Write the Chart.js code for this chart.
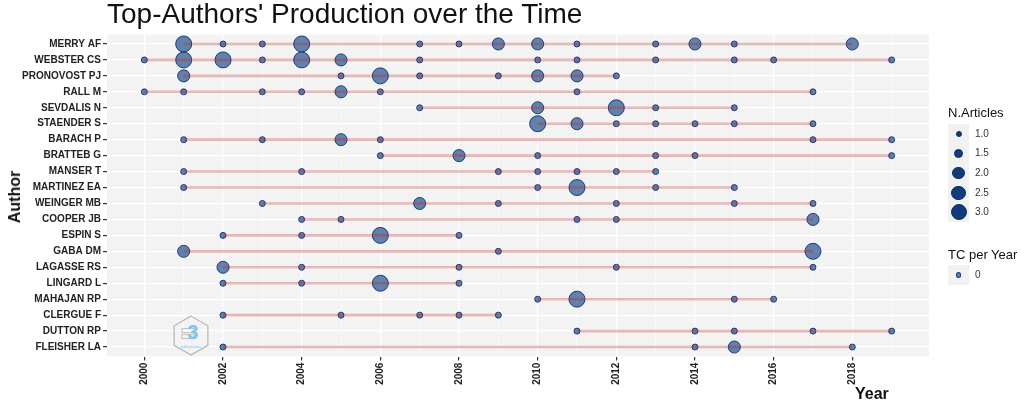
<!DOCTYPE html>
<html>
<head>
<meta charset="utf-8">
<script src="https://cdn.jsdelivr.net/npm/chart.js@4.4.0/dist/chart.umd.min.js"></script>
<style>
  body { margin: 0; background: #fff; font-family: "Liberation Sans", Arial, sans-serif; }
  #wrap { position: relative; width: 1021px; height: 404px; overflow: hidden; }
  #myChart { position: absolute; left: 0; top: 0; }
  .txt { position: absolute; white-space: nowrap; color: #111; }
  #title { left: 107px; top: -2px; font-size: 28px; line-height: 32px; }
  #ytitle { left: 15px; top: 197px; font-size: 16px; font-weight: bold; line-height: 18px;
            transform: translate(-50%, -50%) rotate(-90deg); }
  #xtitle { left: 855px; top: 385px; font-size: 16px; font-weight: bold; line-height: 18px; }
  .ltitle { font-size: 13px; line-height: 14px; left: 948px; }
  .key { position: absolute; left: 948px; width: 21px; background: #f1f1f1; }
  .dot { position: absolute; border-radius: 50%; box-sizing: border-box; }
  .llab { position: absolute; left: 975px; font-size: 10px; line-height: 12px; color: #333; }
</style>
</head>
<body>
<div id="wrap">
  <canvas id="myChart" width="1021" height="404"></canvas>
  <div class="txt" id="title">Top-Authors' Production over the Time</div>
  <div class="txt" id="ytitle">Author</div>
  <div class="txt" id="xtitle">Year</div>
  <div class="txt ltitle" style="top:106px">N.Articles</div>
  <div class="txt ltitle" style="top:248px">TC per Year</div>
  <div id="legend"></div>
</div>
<script>
const authors = ["MERRY AF", "WEBSTER CS", "PRONOVOST PJ", "RALL M", "SEVDALIS N", "STAENDER S",
  "BARACH P", "BRATTEB G", "MANSER T", "MARTINEZ EA", "WEINGER MB", "COOPER JB", "ESPIN S",
  "GABA DM", "LAGASSE RS", "LINGARD L", "MAHAJAN RP", "CLERGUE F", "DUTTON RP", "FLEISHER LA"];

// years with at least one article, one list per author (same order as authors)
const pubYears = [
  [2001, 2002, 2003, 2004, 2007, 2008, 2009, 2010, 2011, 2013, 2014, 2015, 2018],
  [2000, 2001, 2002, 2003, 2004, 2005, 2007, 2010, 2011, 2013, 2015, 2016, 2019],
  [2001, 2005, 2006, 2007, 2009, 2010, 2011, 2012],
  [2000, 2001, 2003, 2004, 2005, 2006, 2011, 2017],
  [2007, 2010, 2012, 2013, 2015],
  [2010, 2011, 2012, 2013, 2014, 2015, 2017],
  [2001, 2003, 2005, 2006, 2017, 2019],
  [2006, 2008, 2010, 2013, 2014, 2019],
  [2001, 2004, 2009, 2010, 2011, 2012, 2013],
  [2001, 2010, 2011, 2013, 2015],
  [2003, 2007, 2009, 2012, 2015, 2017],
  [2004, 2005, 2011, 2012, 2017],
  [2002, 2004, 2006, 2008],
  [2001, 2009, 2017],
  [2002, 2004, 2008, 2012, 2017],
  [2002, 2004, 2006, 2008],
  [2010, 2011, 2015, 2016],
  [2002, 2005, 2007, 2008, 2009],
  [2011, 2014, 2015, 2017, 2019],
  [2002, 2014, 2015, 2018]
];

// number of articles for each of those years
const nArticles = [
  [3, 1, 1, 3, 1, 1, 2, 2, 1, 1, 2, 1, 2],
  [1, 3, 3, 1, 3, 2, 1, 1, 1, 1, 1, 1, 1],
  [2, 1, 3, 1, 1, 2, 2, 1],
  [1, 1, 1, 1, 2, 1, 1, 1],
  [1, 2, 3, 1, 1],
  [3, 2, 1, 1, 1, 1, 1],
  [1, 1, 2, 1, 1, 1],
  [1, 2, 1, 1, 1, 1],
  [1, 1, 1, 1, 1, 1, 1],
  [1, 1, 3, 1, 1],
  [1, 2, 1, 1, 1, 1],
  [1, 1, 1, 1, 2],
  [1, 1, 3, 1],
  [2, 1, 3],
  [2, 1, 1, 1, 1],
  [1, 1, 3, 1],
  [1, 3, 1, 1],
  [1, 1, 1, 1, 1],
  [1, 1, 1, 1, 1],
  [1, 1, 2, 1]
];

const yearTicks = [2000, 2001, 2002, 2003, 2004, 2005, 2006, 2007, 2008, 2009,
  2010, 2011, 2012, 2013, 2014, 2015, 2016, 2017, 2018, 2019];
const sizeBreaks = [1.0, 1.5, 2.0, 2.5, 3.0];
const tcBreaks = [0];

const myChart = document.getElementById("myChart");
const legend = document.getElementById("legend");

// size scale: area grows linearly with N.Articles
const rMin = 3, rMax = 8;
function sizeToRadius(n){
    const t = (n - 1) / 2;
    return Math.sqrt(rMin * rMin + t * (rMax * rMax - rMin * rMin));
}

const pointFill = "rgba(16, 62, 132, 0.64)";
const pointBorder = "rgba(14, 48, 115, 0.9)";

const lineSets = authors.map((name, i) => {
    const ys = pubYears[i];
    return {
        type: "scatter",
        showLine: true,
        data: [{x: ys[0], y: i}, {x: ys[ys.length - 1], y: i}],
        borderColor: "rgba(178, 34, 34, 0.3)",
        borderWidth: 2.6,
        pointRadius: 0,
        order: 0
    };
});

const points = [];
authors.forEach((name, i) => {
    pubYears[i].forEach((yr, j) => points.push({x: yr, y: i, n: nArticles[i][j]}));
});

const pointSet = {
    type: "scatter",
    data: points,
    backgroundColor: pointFill,
    borderColor: pointBorder,
    borderWidth: 1,
    pointRadius: (ctx) => ctx.raw ? sizeToRadius(ctx.raw.n) : 3,
    order: 1
};

const panelBackground = {
    id: "panelBackground",
    beforeDraw(chart){
        const {ctx, chartArea: a} = chart;
        ctx.save();
        ctx.fillStyle = "#f3f3f3";
        ctx.fillRect(a.left, a.top, a.right - a.left, a.bottom - a.top);
        ctx.restore();
    }
};

// small hexagon logo in the lower left of the panel
const logo = {
    id: "logo",
    afterDraw(chart){
        const {ctx, chartArea: a} = chart;
        const cx = a.left + 84, cy = a.bottom - 21, R = 19.5;
        ctx.save();
        ctx.beginPath();
        for (let k = 0; k < 6; k++){
            const ang = Math.PI / 2 + k * Math.PI / 3;
            const px = cx + R * Math.cos(ang), py = cy - R * Math.sin(ang);
            k === 0 ? ctx.moveTo(px, py) : ctx.lineTo(px, py);
        }
        ctx.closePath();
        ctx.strokeStyle = "#b5b5b5";
        ctx.lineWidth = 1.2;
        ctx.stroke();
        ctx.strokeStyle = "#bdbdbd";
        ctx.lineWidth = 1;
        ctx.strokeRect(cx - 9, cy - 7, 12, 4);
        ctx.strokeRect(cx - 9, cy - 1, 12, 4);
        ctx.fillStyle = "#7cc4ea";
        ctx.font = "bold 20px 'Liberation Sans'";
        ctx.textAlign = "center";
        ctx.textBaseline = "middle";
        ctx.fillText("3", cx + 2, cy - 2);
        ctx.font = "4px 'Liberation Sans'";
        ctx.fillText("bibliometrix", cx, cy + 11);
        ctx.restore();
    }
};

const tickFont = {family: "'Liberation Sans', Arial", size: 10, weight: "bold"};

new Chart(myChart, {
    type: "scatter",
    data: {datasets: [...lineSets, pointSet]},
    options: {
        responsive: false,
        animation: false,
        layout: {padding: {top: 34.4, right: 92, left: 0, bottom: 0}},
        plugins: {legend: {display: false}, tooltip: {enabled: false}},
        scales: {
            x: {
                type: "linear",
                min: 1999.05,
                max: 2019.95,
                afterBuildTicks: (scale) => { scale.ticks = yearTicks.map(v => ({value: v})); },
                afterFit: (scale) => { scale.height = 47.4; },
                border: {display: false},
                grid: {
                    color: (ctx) => ctx.tick && ctx.tick.value % 2 ? "rgba(255,255,255,0.8)" : "#ffffff",
                    lineWidth: (ctx) => ctx.tick && ctx.tick.value % 2 ? 0.6 : 1.2,
                    tickColor: (ctx) => ctx.tick && ctx.tick.value % 2 ? "rgba(0,0,0,0)" : "#333333",
                    tickLength: 4
                },
                ticks: {
                    autoSkip: false,
                    minRotation: 90,
                    maxRotation: 90,
                    padding: 2,
                    color: "#222",
                    font: tickFont,
                    callback: (value) => value % 2 === 0 ? String(value) : ""
                }
            },
            y: {
                type: "linear",
                reverse: true,
                min: -0.6,
                max: 19.6,
                afterBuildTicks: (scale) => { scale.ticks = authors.map((a, i) => ({value: i})); },
                afterFit: (scale) => { scale.width = 107; },
                border: {display: false},
                grid: {color: "#ffffff", lineWidth: 1.2, tickColor: "#333333", tickLength: 4},
                ticks: {
                    autoSkip: false,
                    padding: 2,
                    color: "#222",
                    font: tickFont,
                    callback: (value) => authors[value]
                }
            }
        }
    },
    plugins: [panelBackground, logo]
});

// legends drawn as html next to the panel
function addKey(top, h, r, fill, border, label){
    const key = document.createElement("div");
    key.className = "key";
    key.style.top = top + "px";
    key.style.height = h + "px";
    legend.appendChild(key);
    const dot = document.createElement("div");
    dot.className = "dot";
    dot.style.width = dot.style.height = (2 * r) + "px";
    dot.style.left = (958.5 - r) + "px";
    dot.style.top = (top + h / 2 - r) + "px";
    dot.style.background = fill;
    dot.style.border = "1px solid " + border;
    legend.appendChild(dot);
    const lab = document.createElement("div");
    lab.className = "llab";
    lab.style.top = (top + h / 2 - 6) + "px";
    lab.textContent = label;
    legend.appendChild(lab);
}

sizeBreaks.forEach((b, k) => {
    addKey(124 + k * 19.6, 19.6, sizeToRadius(b), "#143a7c", "#0e2f6a", b.toFixed(1));
});
tcBreaks.forEach((b, k) => {
    addKey(265 + k * 20, 20, 2.6, pointFill, pointBorder, String(b));
});
</script>
</body>
</html>
